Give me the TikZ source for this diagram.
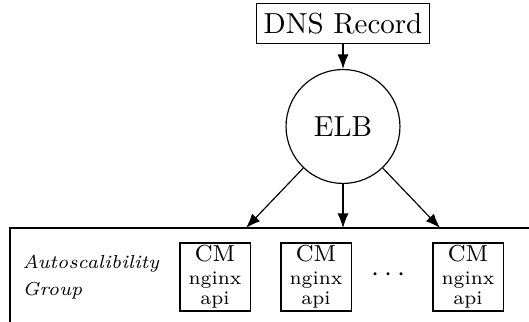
\documentclass[tikz,border=0pt]{standalone}
\usepackage{amsmath}
\usepackage{tikz}
\usetikzlibrary{arrows.meta}

\tikzset{
  cmbox/.style={draw,minimum width=24.2pt,minimum height=23.5pt,inner sep=0pt,align=center,
    font=\fontsize{6.6}{6.9}\selectfont},
}
\newcommand{\cmtext}{{\fontsize{8}{8}\selectfont CM}\\[1pt]nginx\\api}

\begin{document}
\begin{tikzpicture}[x=3.45pt,y=3.45pt,>={Latex[length=5pt,width=3.8pt]}]
    \useasboundingbox (0,0) rectangle (52.9,32.2);
    \node[draw,inner xsep=2.5pt,minimum height=12pt] (DNS) at (34.3,29.85) {DNS Record};
    \node[draw,circle,minimum size=39.3pt,inner sep=0pt] (ELB) at (34.3,19.55) {ELB};
    \draw[->] (DNS) -- (ELB);
    % autoscaling group (runs off the page)
    \draw (52.9,9.4) -- (1,9.4) -- (1,0);
    \coordinate (G1) at (24.6,9.4);
    \coordinate (G2) at (34.3,9.4);
    \coordinate (G3) at (44.0,9.4);
    \draw[->] (ELB) -- (G1); \draw[->] (ELB) -- (G2); \draw[->] (ELB) -- (G3);
    \node[anchor=west,align=left,inner sep=0pt,font=\fontsize{6.5}{9.5}\selectfont\itshape] (ASG) at (2.2,4.5) {Autoscalibility\\Group};
    \node[cmbox] (CM1) at (21.5,4.5) {\cmtext};
    \node[cmbox] (CM2) at (31.6,4.5) {\cmtext};
    \node (DOTS) at (39.1,4.7) {$\cdots$};
    \node[cmbox] (CM3) at (46.8,4.5) {\cmtext};
  \end{tikzpicture}
\end{document}
